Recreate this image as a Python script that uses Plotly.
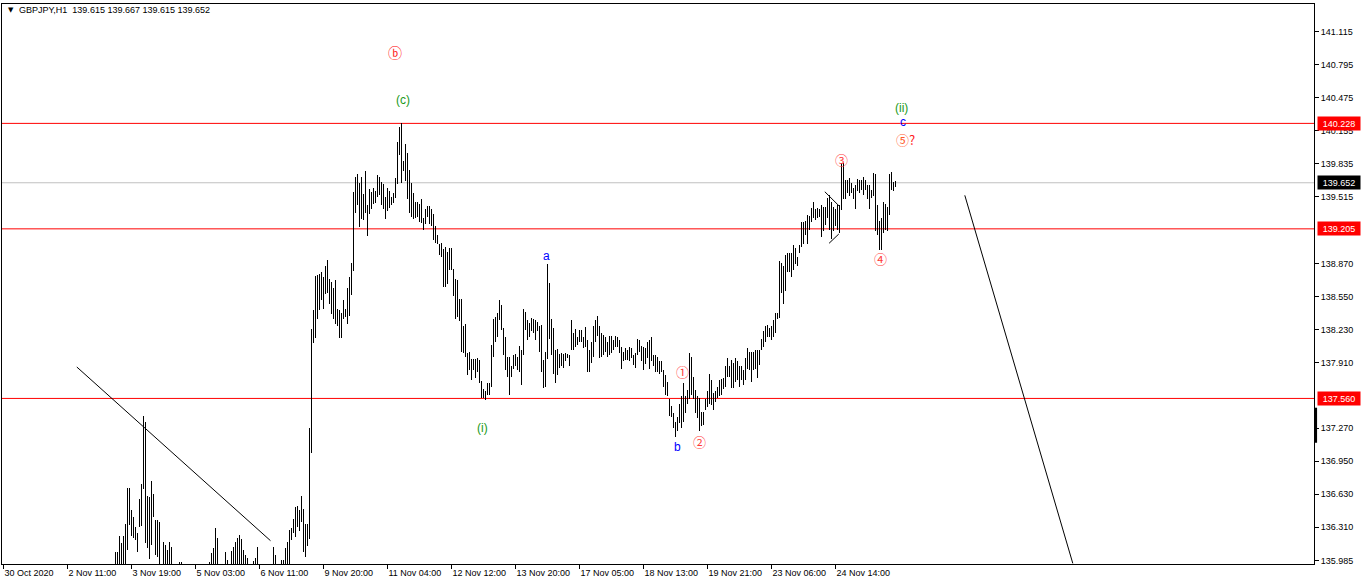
import plotly.graph_objects as go

# ---------------- data ----------------
symbol = "GBPJPY,H1"
last_ohlc = ["139.615", "139.667", "139.615", "139.652"]

first_bar = 56  # index of the first bar held in the lists below (earlier bars lie below the visible range)

bar_high = [
    136.07, 136.07, 136.23, 136.16, 136.23, 136.34, 136.69, 136.69, 136.48, 136.41,
    136.31, 136.25, 136.58, 136.73, 137.39, 137.33, 136.61, 136.60, 136.76, 136.63,
    136.38, 136.38, 136.36, 135.94, 136.17, 136.14, 136.09, 136.17, 136.12, 135.93,
    135.92, 135.94, 135.97, 135.97, 135.93, 135.90, 135.88, 135.91, 135.94, 135.92,
    135.89, 135.87, 135.90, 135.93, 135.95, 135.92, 135.94, 135.97, 136.06, 136.11,
    136.30, 136.21, 135.94, 135.92, 135.93, 136.07, 135.99, 135.94, 136.08, 136.12,
    136.17, 136.21, 136.24, 136.20, 136.09, 136.04, 136.01, 135.94, 135.93, 135.98,
    136.01, 136.12, 135.94, 135.92, 135.90, 135.91, 135.93, 135.94, 135.95, 136.12,
    136.04, 135.94, 135.93, 135.99, 135.99, 136.11, 136.17, 136.28, 136.30, 136.39,
    136.51, 136.52, 136.48, 136.61, 136.49, 136.34, 136.34, 137.27, 138.23, 138.42,
    138.75, 138.76, 138.77, 138.79, 138.74, 138.84, 138.90, 138.72, 138.69, 138.63,
    138.71, 138.43, 138.42, 138.39, 138.51, 138.43, 138.63, 138.74, 138.87, 139.56,
    139.71, 139.74, 139.65, 139.71, 139.54, 139.77, 139.44, 139.59, 139.56, 139.60,
    139.57, 139.73, 139.71, 139.66, 139.64, 139.51, 139.60, 139.57, 139.51, 139.55,
    139.70, 140.05, 140.19, 140.228, 139.86, 140.03, 139.94, 139.78, 139.65, 139.55,
    139.47, 139.47, 139.45, 139.49, 139.31, 139.40, 139.43, 139.43, 139.40, 139.35,
    139.23, 139.15, 139.06, 139.07, 139.01, 139.03, 138.98, 139.02, 139.02, 138.82,
    138.72, 138.71, 138.52, 138.52, 138.26, 138.28, 138.00, 138.01, 137.94, 137.94,
    137.94, 137.95, 137.93, 137.73, 137.65, 137.63, 137.71, 137.71, 138.08, 138.33,
    138.35, 138.39, 138.51, 138.47, 138.24, 138.16, 137.96, 137.96, 137.87, 137.98,
    137.99, 137.96, 138.07, 138.03, 138.43, 138.40, 138.32, 138.29, 138.34, 138.33,
    138.32, 138.30, 138.26, 138.27, 137.93, 138.01, 138.86, 138.68, 138.33, 138.24,
    138.03, 138.04, 137.99, 138.00, 137.99, 138.00, 137.99, 137.98, 138.32, 138.19,
    138.23, 138.16, 138.22, 138.22, 138.16, 138.25, 138.13, 138.03, 138.11, 138.26,
    138.32, 138.36, 138.26, 138.19, 138.18, 138.16, 138.11, 138.17, 138.17, 138.13,
    138.17, 138.16, 138.13, 138.06, 138.01, 138.05, 138.03, 138.06, 138.05, 137.98,
    138.00, 138.14, 138.13, 138.07, 138.06, 138.05, 138.11, 138.13, 138.16, 137.98,
    137.98, 137.96, 137.92, 137.92, 137.84, 137.79, 137.72, 137.55, 137.49, 137.42,
    137.33, 137.38, 137.51, 137.58, 137.71, 137.58, 137.64, 138.00, 137.96, 137.77,
    137.64, 137.58, 137.56, 137.43, 137.43, 137.55, 137.63, 137.80, 137.74, 137.61,
    137.63, 137.67, 137.74, 137.75, 137.76, 137.87, 137.95, 137.87, 137.93, 137.90,
    137.95, 137.92, 137.87, 137.87, 137.84, 137.95, 138.05, 138.01, 138.01, 138.01,
    138.03, 138.03, 138.03, 138.14, 138.21, 138.26, 138.27, 138.24, 138.26, 138.32,
    138.39, 138.39, 138.89, 138.87, 138.84, 138.95, 138.97, 138.97, 138.97, 139.05,
    139.02, 138.93, 139.05, 139.27, 139.27, 139.28, 139.34, 139.33, 139.41, 139.47,
    139.40, 139.41, 139.40, 139.44, 139.42, 139.42, 139.50, 139.53, 139.47, 139.42,
    139.40, 139.44, 139.44, 139.84, 139.84, 139.68, 139.68, 139.70, 139.65, 139.60,
    139.63, 139.69, 139.68, 139.68, 139.71, 139.68, 139.63, 139.63, 139.58, 139.75,
    139.74, 139.44, 139.28, 139.31, 139.47, 139.45, 139.42, 139.74, 139.76, 139.66, 139.667,
]

bar_low = [
    135.90, 135.90, 135.90, 135.90, 135.90, 135.93, 136.09, 136.33, 136.23, 136.21,
    136.19, 136.07, 136.31, 136.32, 136.68, 136.16, 136.11, 136.00, 136.14, 136.41,
    136.04, 136.02, 135.90, 135.80, 135.90, 135.90, 135.90, 135.90, 135.90, 135.80,
    135.78, 135.82, 135.85, 135.85, 135.80, 135.78, 135.76, 135.79, 135.81, 135.80,
    135.77, 135.75, 135.78, 135.81, 135.83, 135.80, 135.82, 135.85, 135.88, 135.90,
    135.90, 135.90, 135.82, 135.80, 135.81, 135.88, 135.88, 135.83, 135.90, 135.90,
    135.92, 135.92, 135.95, 135.95, 135.90, 135.90, 135.88, 135.84, 135.82, 135.88,
    135.88, 135.90, 135.83, 135.80, 135.78, 135.79, 135.81, 135.82, 135.84, 135.90,
    135.90, 135.83, 135.82, 135.88, 135.88, 135.90, 135.92, 135.93, 136.19, 136.25,
    136.22, 136.31, 136.27, 136.36, 136.07, 136.02, 136.13, 136.20, 137.03, 138.10,
    138.15, 138.33, 138.42, 138.51, 138.43, 138.57, 138.58, 138.48, 138.38, 138.33,
    138.28, 138.26, 138.15, 138.15, 138.33, 138.35, 138.28, 138.36, 138.56, 138.80,
    139.36, 139.44, 139.22, 139.30, 139.29, 139.36, 139.14, 139.35, 139.40, 139.45,
    139.46, 139.51, 139.53, 139.44, 139.40, 139.30, 139.38, 139.41, 139.44, 139.46,
    139.50, 139.64, 139.92, 139.65, 139.77, 139.67, 139.49, 139.36, 139.32, 139.30,
    139.31, 139.32, 139.27, 139.26, 139.19, 139.25, 139.32, 139.25, 139.23, 139.10,
    139.07, 139.06, 138.95, 138.93, 138.64, 138.64, 138.67, 138.81, 138.81, 138.55,
    138.33, 138.35, 138.31, 138.01, 138.00, 137.96, 137.79, 137.84, 137.74, 137.84,
    137.76, 137.82, 137.71, 137.56, 137.56, 137.54, 137.59, 137.59, 137.67, 137.96,
    138.11, 138.16, 138.32, 138.22, 137.98, 137.84, 137.77, 137.59, 137.77, 137.85,
    137.87, 137.84, 137.82, 137.69, 137.98, 138.22, 138.13, 138.16, 138.21, 138.19,
    138.13, 138.21, 138.01, 137.82, 137.66, 137.67, 137.94, 138.14, 137.98, 137.80,
    137.71, 137.79, 137.86, 137.87, 137.86, 137.92, 137.95, 137.87, 138.03, 138.03,
    138.06, 138.08, 138.11, 138.11, 138.05, 138.06, 137.82, 137.82, 137.90, 137.96,
    138.11, 138.17, 137.95, 137.96, 137.98, 138.01, 137.96, 137.98, 138.00, 138.03,
    138.06, 138.06, 138.00, 137.85, 137.92, 137.93, 137.93, 137.92, 137.95, 137.88,
    137.86, 137.98, 138.01, 137.92, 137.84, 137.89, 137.95, 137.85, 137.92, 137.87,
    137.82, 137.82, 137.80, 137.82, 137.67, 137.59, 137.58, 137.39, 137.38, 137.27,
    137.19, 137.24, 137.32, 137.27, 137.33, 137.42, 137.51, 137.55, 137.59, 137.55,
    137.42, 137.37, 137.24, 137.29, 137.30, 137.45, 137.48, 137.51, 137.50, 137.45,
    137.53, 137.56, 137.58, 137.59, 137.65, 137.67, 137.77, 137.77, 137.66, 137.66,
    137.72, 137.74, 137.67, 137.74, 137.69, 137.74, 137.85, 137.84, 137.72, 137.84,
    137.85, 137.76, 137.88, 138.03, 138.06, 138.11, 138.16, 138.16, 138.13, 138.16,
    138.19, 138.33, 138.34, 138.58, 138.48, 138.60, 138.79, 138.79, 138.74, 138.81,
    138.86, 138.84, 138.97, 139.03, 139.06, 139.15, 139.06, 139.19, 139.27, 139.31,
    139.29, 139.31, 139.32, 139.13, 139.18, 139.24, 139.31, 139.19, 139.11, 139.18,
    139.23, 139.19, 139.16, 139.39, 139.49, 139.49, 139.55, 139.52, 139.55, 139.49,
    139.40, 139.57, 139.55, 139.58, 139.53, 139.58, 139.49, 139.40, 139.50, 139.52,
    139.18, 139.15, 139.00, 139.00, 139.16, 139.19, 139.18, 139.34, 139.58, 139.57, 139.615,
]

time_tick_bars = [0, 32, 64, 96, 128, 160, 192, 224, 256, 288, 320, 352, 384, 416]
time_tick_labels = ["30 Oct 2020", "2 Nov 11:00", "3 Nov 19:00", "5 Nov 03:00", "6 Nov 11:00",
                    "9 Nov 20:00", "11 Nov 04:00", "12 Nov 12:00", "13 Nov 20:00", "17 Nov 05:00",
                    "18 Nov 13:00", "19 Nov 21:00", "23 Nov 06:00", "24 Nov 14:00"]

price_ticks = [141.115, 140.795, 140.475, 140.155, 139.835, 139.515, 138.870, 138.550,
               138.230, 137.910, 137.270, 136.950, 136.630, 136.310, 135.985]

level_prices = [140.228, 139.205, 137.560]
bid_price = 139.652

# hand-drawn trend lines: (bar0, price0, bar1, price1)
trend_bar0 = [36.65, 480.65, 410.65, 412.8]
trend_price0 = [137.865, 139.53, 139.565, 139.065]
trend_bar1 = [133.5, 534.65, 417.8, 417.65]
trend_price1 = [136.18, 135.96, 139.427, 139.155]

# Elliott wave labels
wave_text = ["ⓑ", "(c)", "(i)", "a", "b", "①", "②", "③", "④",
             "⑤<span style='color:#ff2020'>?</span>", "c", "(ii)"]
wave_bar = [195.65, 199.65, 239.65, 271.65, 337.15, 339.65, 348.15, 419.15, 438.65, 451.0, 449.65, 449.15]
wave_price = [140.92, 140.455, 137.27, 138.94, 137.09, 137.82, 137.147, 139.873, 138.92, 140.075, 140.24, 140.375]
wave_color = ["#ff1a1a", "#1a9a1a", "#1a9a1a", "#0000ff", "#0000ff", "#ff3a3a", "#ff3a3a",
              "#ff3a3a", "#ff3a3a", "#ff5a2a", "#0000ff", "#1a9a1a"]
wave_size = [14, 12, 12, 12, 12, 13, 13, 13, 13, 13, 12, 12]
wave_font = ["Noto Sans CJK JP, DejaVu Sans", "Liberation Sans", "Liberation Sans", "Liberation Sans",
             "Liberation Sans", "Noto Sans CJK JP, DejaVu Sans", "Noto Sans CJK JP, DejaVu Sans",
             "Noto Sans CJK JP, DejaVu Sans", "Noto Sans CJK JP, DejaVu Sans",
             "Noto Sans CJK JP, DejaVu Sans", "Liberation Sans", "Liberation Sans"]

# ---------------- figure ----------------
FONT = "Liberation Sans, Arial, sans-serif"
bars_x = list(range(first_bar, first_bar + len(bar_high)))
spans = [h - l for h, l in zip(bar_high, bar_low)]

fig = go.Figure()
fig.add_trace(go.Bar(
    x=bars_x, y=spans, base=bar_low, width=0.4,
    marker=dict(color="black", line=dict(width=0)),
    hoverinfo="skip",
))

shapes = []
for p in level_prices:
    shapes.append(dict(type="line", xref="paper", x0=0, x1=1, yref="y", y0=p, y1=p,
                       line=dict(color="#ff0000", width=1), layer="below"))
shapes.append(dict(type="line", xref="paper", x0=0, x1=1, yref="y", y0=bid_price, y1=bid_price,
                   line=dict(color="#c0c0c0", width=1), layer="below"))
for b0, p0, b1, p1 in zip(trend_bar0, trend_price0, trend_bar1, trend_price1):
    shapes.append(dict(type="line", xref="x", yref="y", x0=b0, y0=p0, x1=b1, y1=p1,
                       line=dict(color="black", width=1)))
# small scroll marker on the price scale
shapes.append(dict(type="line", xref="paper", yref="y", x0=1.0012, x1=1.0012, y0=137.47, y1=137.13,
                   line=dict(color="black", width=3)))

annotations = []
for t, b, p, c, s, f in zip(wave_text, wave_bar, wave_price, wave_color, wave_size, wave_font):
    annotations.append(dict(text=t, x=b, y=p, xref="x", yref="y", showarrow=False,
                            font=dict(family=f, size=s, color=c),
                            xanchor="center", yanchor="middle"))
for p in level_prices:
    annotations.append(dict(text=f"{p:.3f}", x=1, xshift=3, y=p, xref="paper", yref="y",
                            showarrow=False, xanchor="left", yanchor="middle",
                            bgcolor="#ff0000", width=40, height=11, borderpad=1, align="center",
                            font=dict(family=FONT, size=9, color="white")))
annotations.append(dict(text=f"{bid_price:.3f}", x=1, xshift=3, y=bid_price, xref="paper", yref="y",
                        showarrow=False, xanchor="left", yanchor="middle",
                        bgcolor="#000000", width=40, height=11, borderpad=1, align="center",
                        font=dict(family=FONT, size=9, color="white")))
annotations.append(dict(text="▼", x=0.003, y=0.989, xref="paper", yref="paper", showarrow=False,
                        xanchor="left", yanchor="middle", font=dict(family="DejaVu Sans", size=7, color="black")))
annotations.append(dict(text=symbol + "  " + " ".join(last_ohlc), x=0.0115, y=0.989, xref="paper", yref="paper",
                        showarrow=False, xanchor="left", yanchor="middle",
                        font=dict(family=FONT, size=9, color="black")))

fig.update_layout(
    width=1362, height=584,
    margin=dict(l=2, r=48, t=4, b=20),
    plot_bgcolor="white", paper_bgcolor="white",
    showlegend=False, bargap=0,
    shapes=shapes, annotations=annotations,
    xaxis=dict(range=[-0.75, 655.25], tickmode="array", tickvals=time_tick_bars, ticktext=time_tick_labels,
               ticks="outside", ticklen=4, tickcolor="black", showline=True, linecolor="black",
               linewidth=1, mirror=True, showgrid=False, zeroline=False,
               ticklabelposition="outside right",
               tickfont=dict(family=FONT, size=9, color="black")),
    yaxis=dict(range=[135.954, 141.386], side="right", tickmode="array", tickvals=price_ticks,
               ticktext=[f"{v:.3f}" for v in price_ticks],
               ticks="outside", ticklen=4, tickcolor="black", showline=True, linecolor="black",
               linewidth=1, mirror=True, showgrid=False, zeroline=False,
               tickfont=dict(family=FONT, size=9, color="black")),
)

fig.write_html("out.html", config={"displayModeBar": False},
               post_script="document.body.style.margin='0';")
